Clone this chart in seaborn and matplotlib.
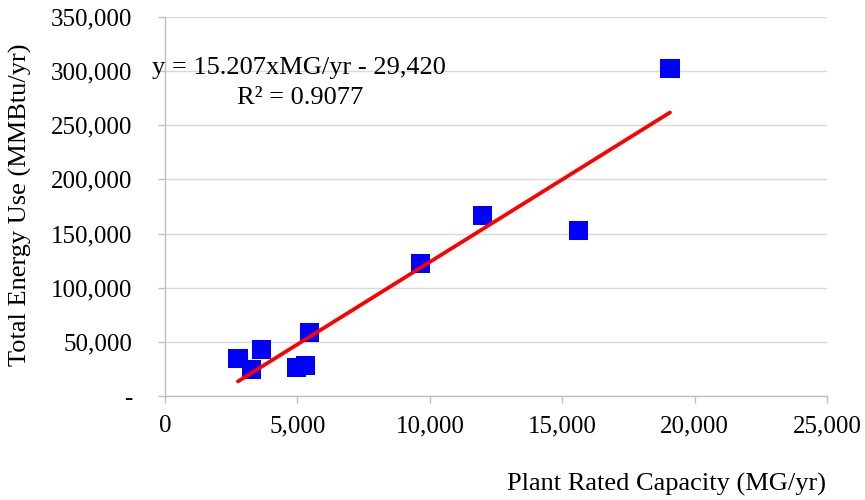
import numpy as np
import pandas as pd
import matplotlib
matplotlib.use("Agg")
import matplotlib.pyplot as plt
import seaborn as sns
from matplotlib.ticker import FuncFormatter

# Data
capacity = [2755, 3280, 3660, 4970, 5290, 5460, 9640, 12000, 15610, 19070]      # MG/yr
energy = [34700, 24600, 43000, 26400, 28300, 58600, 122200, 166400, 152600, 302700]  # MMBtu/yr
x_ticks = [0, 5000, 10000, 15000, 20000, 25000]
y_ticks = [0, 50000, 100000, 150000, 200000, 250000, 300000, 350000]
eq_line1 = "y = 15.207xMG/yr - 29,420"
eq_line2 = "R\u00b2 = 0.9077"

df = pd.DataFrame({"capacity": capacity, "energy": energy})

sns.set_theme(style="white")
plt.rcParams["font.family"] = ["Liberation Serif", "DejaVu Serif"]

W, H = 865, 500
fig = plt.figure(figsize=(W / 100, H / 100), dpi=100)
ax_left, ax_right, ax_top, ax_bottom = 165, 827, 17, 396
ax = fig.add_axes([ax_left / W, 1 - ax_bottom / H, (ax_right - ax_left) / W, (ax_bottom - ax_top) / H])

sns.regplot(data=df, x="capacity", y="energy", ax=ax, ci=None, marker="s",
            scatter_kws=dict(s=190, color="#0000FF", alpha=1.0, edgecolors="none", linewidths=0, zorder=3),
            line_kws=dict(color="#FF0000", linewidth=2.7, zorder=4, solid_capstyle="round"))

ax.set_xlim(x_ticks[0], x_ticks[-1])
ax.set_ylim(y_ticks[0], y_ticks[-1])
ax.set_xticks(x_ticks)
ax.set_yticks(y_ticks)


def yfmt(v, pos):
    return "-" if v == 0 else f"{int(v):,}"


ax.xaxis.set_major_formatter(FuncFormatter(lambda v, p: f"{int(v):,}"))
ax.yaxis.set_major_formatter(FuncFormatter(yfmt))

grey = "#d9d9d9"
axc = "#bfbfbf"
ax.grid(axis="y", color=grey, linewidth=1.0)
ax.grid(axis="x", visible=False)
ax.set_axisbelow(True)
for s in ["top", "right"]:
    ax.spines[s].set_visible(False)
for s in ["left", "bottom"]:
    ax.spines[s].set_color(axc)
    ax.spines[s].set_linewidth(1.0)

ax.tick_params(axis="y", which="major", direction="out", length=5, width=1.0,
               color=axc, pad=18.5, labelsize=18, labelcolor="black", left=True)
ax.tick_params(axis="x", which="major", direction="out", length=5, width=1.0,
               color=axc, pad=9, labelsize=18, labelcolor="black", bottom=True)

ax.set_xlabel("")
ax.set_ylabel("")
fig.text(20 / W, 1 - 205 / H, "Total Energy Use (MMBtu/yr)", rotation=90,
         ha="center", va="center", fontsize=19, color="black")
fig.text(826 / W, 1 - 484 / H, "Plant Rated Capacity (MG/yr)",
         ha="right", va="center", fontsize=19, color="black")
fig.text(299 / W, 1 - 74 / H, eq_line1, ha="center", va="baseline",
         fontsize=19, color="black")
fig.text(300 / W, 1 - 104 / H, eq_line2, ha="center", va="baseline",
         fontsize=19, color="black")

fig.savefig("out.png", dpi=100, facecolor="white")
